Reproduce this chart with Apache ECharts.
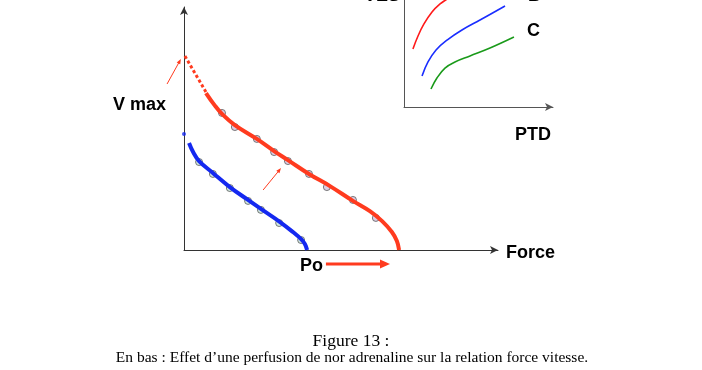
<!DOCTYPE html>
<html><head><meta charset="utf-8">
<script src="https://cdn.jsdelivr.net/npm/echarts@6/dist/echarts.min.js"></script>
<style>html,body{margin:0;padding:0;background:#fff}#c{width:702px;height:370px}</style>
</head><body><div id="c"></div>
<script>
// ---- Main chart (force / velocity), normalized units 0..100 ----
const redDotted = [[0.3,79.8],[7.0,65.0]];
const redCurve = [[7.0,64.6],[9.9,59.3],[12.1,56.0],[16.2,51.4],[23.2,45.7],[28.7,40.7],[33.1,37.0],[39.8,31.3],[46.5,26.3],[53.8,20.2],[59.2,16.0],[63.1,11.9],[66.2,7.4],[67.8,3.7],[68.5,0]];
const redPoints = [[12.1,56.4],[16.2,50.6],[23.2,45.7],[28.7,40.3],[33.1,36.6],[39.8,31.3],[45.5,25.9],[53.8,20.6],[61.1,13.2]];
const blueStart = [[0,47.7]];
const blueCurve = [[1.6,44.0],[2.9,40.3],[4.8,36.6],[9.2,31.7],[14.6,25.9],[20.4,20.6],[24.5,16.9],[30.6,11.5],[34.7,7.4],[37.3,4.5],[38.5,2.5],[39.2,0]];
const bluePoints = [[4.8,36.2],[9.2,31.3],[14.6,25.5],[20.4,20.2],[24.5,16.5],[30.3,11.1],[37.3,4.1]];
const noteArrows = [[[-5.4,68.3],[-1.0,78.6]],[[25.2,24.7],[30.9,33.7]]];
const poArrow = [[45.2,-5.8],[65.6,-5.8]];
// ---- Inset (VES vs PTD), normalized units 0..100 ----
const insetA = [[6.0,54.2],[9.4,66.4],[13.4,77.6],[18.8,88.8],[24.2,96.3],[28.9,100.9],[30.9,102.8]];
const insetB = [[12.1,29.0],[16.1,42.1],[21.5,53.3],[28.9,62.6],[38.9,72.0],[51.0,81.3],[67.8,94.4]];
const insetC = [[18.1,16.8],[22.1,27.1],[27.5,36.4],[34.2,42.1],[44.3,47.7],[57.7,55.1],[73.8,65.4]];
// ---- Texts ----
const labels = {vmax:'V max', force:'Force', po:'Po', ptd:'PTD', ves:'VES', b:'B', c:'C'};
const captionTitle = 'Figure 13 :';
const captionText = 'En bas : Effet d\u2019une perfusion de nor adrenaline sur la relation force vitesse.';

const RED = '#ff3b1f', BLUE = '#1428f0';
const chart = echarts.init(document.getElementById('c'), null, {renderer:'canvas'});
const axisBase = (arrow, color) => ({
  type:'value', min:0, max:100, splitLine:{show:false}, axisTick:{show:false}, axisLabel:{show:false},
  axisLine:{show:true, onZero:false, symbol:arrow ? ['none','arrow'] : 'none', symbolSize:[6,8], lineStyle:{color:color, width:1}}
});
const boldText = (txt, x, y, align) => ({type:'text', x:x, y:y, style:{text:txt, fill:'#000', font:'bold 18px "Liberation Sans", Arial, sans-serif', textAlign:align||'left', textVerticalAlign:'middle'}});

chart.setOption({
  animation:false,
  grid:[
    {left:184, top:7, width:314, height:243},
    {left:404, top:0, width:149, height:107}
  ],
  xAxis:[ Object.assign(axisBase(true,'#333'),{gridIndex:0}), Object.assign(axisBase(true,'#555'),{gridIndex:1}) ],
  yAxis:[ Object.assign(axisBase(true,'#333'),{gridIndex:0}), Object.assign(axisBase(false,'#555'),{gridIndex:1}) ],
  series:[
    {type:'line', data:redDotted, symbol:'none', lineStyle:{color:RED, width:3, type:[3,2.5]}},
    {type:'line', data:redCurve, smooth:0.4, symbol:'none', lineStyle:{color:RED, width:4}},
    {type:'line', data:blueCurve, smooth:0.4, symbol:'none', lineStyle:{color:BLUE, width:4}},
    {type:'scatter', data:blueStart, symbol:'circle', symbolSize:4, itemStyle:{color:BLUE}},
    {type:'scatter', data:redPoints, symbolSize:7, itemStyle:{color:'#d2c2df', borderColor:'#5a5a5a', borderWidth:1}},
    {type:'scatter', data:bluePoints, symbolSize:7, itemStyle:{color:'#c4e2d8', borderColor:'#5a5a5a', borderWidth:1}},
    {type:'line', xAxisIndex:1, yAxisIndex:1, data:insetA, smooth:0.4, symbol:'none', lineStyle:{color:'#ff1a1a', width:1.6}},
    {type:'line', xAxisIndex:1, yAxisIndex:1, data:insetB, smooth:0.4, symbol:'none', lineStyle:{color:'#1a2eff', width:1.6}},
    {type:'line', xAxisIndex:1, yAxisIndex:1, data:insetC, smooth:0.4, symbol:'none', lineStyle:{color:'#1a9a1a', width:1.6}}
  ]
});

function arrowEls(a, b, width, headLen, headW, color) {
  const p0 = chart.convertToPixel({gridIndex:0}, a);
  const p1 = chart.convertToPixel({gridIndex:0}, b);
  const dx = p1[0]-p0[0], dy = p1[1]-p0[1], L = Math.hypot(dx,dy);
  const ux = dx/L, uy = dy/L, nx = -uy, ny = ux;
  const bx = p1[0]-ux*headLen, by = p1[1]-uy*headLen;
  return [
    {type:'line', shape:{x1:p0[0], y1:p0[1], x2:bx+ux*0.5, y2:by+uy*0.5}, style:{stroke:color, lineWidth:width}},
    {type:'polygon', shape:{points:[[p1[0],p1[1]],[bx+nx*headW/2, by+ny*headW/2],[bx-nx*headW/2, by-ny*headW/2]]}, style:{fill:color}}
  ];
}
let g = [];
noteArrows.forEach(a => { g = g.concat(arrowEls(a[0], a[1], 1, 5, 4, RED)); });
g = g.concat(arrowEls(poArrow[0], poArrow[1], 3, 10, 9, RED));
g.push(
  boldText(labels.vmax, 113, 105),
  boldText(labels.force, 506, 253),
  boldText(labels.po, 300, 266),
  boldText(labels.ptd, 515, 135),
  boldText(labels.c, 527, 31),
  boldText(labels.ves, 364, -4),
  boldText(labels.b, 528, -4),
  {type:'text', x:351, y:341, style:{text:captionTitle, fill:'#000', font:'17.5px "Liberation Serif", "Times New Roman", serif', textAlign:'center', textVerticalAlign:'middle'}},
  {type:'text', x:352, y:358, style:{text:captionText, fill:'#000', font:'15.5px "Liberation Serif", "Times New Roman", serif', textAlign:'center', textVerticalAlign:'middle'}}
);
chart.setOption({graphic:g});
</script></body></html>
